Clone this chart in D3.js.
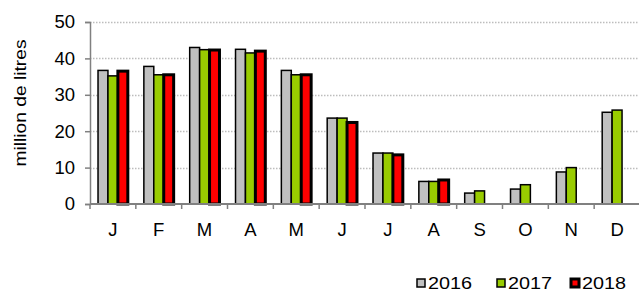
<!DOCTYPE html>
<html>
<head>
<meta charset="utf-8">
<script src="https://cdn.jsdelivr.net/npm/d3@7"></script>
<style>
  body { margin: 0; background: #fff; }
  text { font-family: "Liberation Sans", Arial, sans-serif; fill: #000; }
</style>
</head>
<body>
<script>
var width = 639, height = 291;
var months = ["J", "F", "M", "A", "M", "J", "J", "A", "S", "O", "N", "D"];
var series = ["2016", "2017", "2018"];
var v2016 = [36.7, 37.8, 43.0, 42.5, 36.7, 23.6, 14.0, 6.2, 3.0, 4.1, 8.8, 25.2];
var v2017 = [35.2, 35.5, 42.4, 41.5, 35.5, 23.6, 14.0, 6.2, 3.6, 5.3, 10.0, 25.8];
var v2018 = [36.5, 35.5, 42.3, 42.0, 35.5, 22.4, 13.5, 6.6, null, null, null, null];
var yTicks = [0, 10, 20, 30, 40, 50];
var fills = ["#c0c0c0", "#99cc00", "#ff0000"];
var strokeW = [1.5, 1.5, 3];

var svg = d3.select("body").append("svg")
    .attr("width", width)
    .attr("height", height);

var margin = {left: 90, top: 22, bottom: 204, right: 640};

var idx = d3.range(months.length);
var x0 = d3.scaleBand()
    .domain(idx)
    .range([margin.left, margin.right])
    .paddingInner(0.35)
    .paddingOuter(0.175);
var step = x0.step();
var x1 = d3.scaleBand()
    .domain(series)
    .range([0, x0.bandwidth()]);

var y = d3.scaleLinear()
    .domain([0, 50])
    .range([margin.bottom, margin.top]);

// dotted gridlines
svg.append("g").selectAll("line")
    .data(yTicks.slice(1))
    .enter().append("line")
    .attr("x1", margin.left)
    .attr("x2", width)
    .attr("y1", function(d){ return Math.round(y(d)) + 0.5; })
    .attr("y2", function(d){ return Math.round(y(d)) + 0.5; })
    .attr("stroke", "#bdbdbd")
    .attr("stroke-width", 1.5)
    .attr("stroke-dasharray", "1.5,1.5");

// bars
var table = idx.map(function(i){
    return [v2016[i], v2017[i], v2018[i]];
});

var groups = svg.append("g").selectAll("g")
    .data(table)
    .enter().append("g")
    .attr("transform", function(d, i){ return "translate(" + x0(i) + ",0)"; });

groups.selectAll("rect")
    .data(function(d){ return d.map(function(v, k){ return {k: k, v: v}; }).filter(function(e){ return e.v != null; }); })
    .enter().append("rect")
    .attr("x", function(d){ return x1(series[d.k]); })
    .attr("width", x1.bandwidth())
    .attr("y", function(d){ return y(d.v); })
    .attr("height", function(d){ return y(0) - y(d.v); })
    .attr("fill", function(d){ return fills[d.k]; })
    .attr("stroke", "#000")
    .attr("stroke-width", function(d){ return strokeW[d.k]; });

// y axis
var yAxis = d3.axisLeft(y)
    .tickValues(yTicks)
    .tickSize(5)
    .tickPadding(10);
var gy = svg.append("g")
    .attr("transform", "translate(" + margin.left + ",0)")
    .call(yAxis);
gy.select(".domain").attr("stroke", "#808080").attr("stroke-width", 1.5);
gy.selectAll(".tick line").attr("stroke", "#808080").attr("stroke-width", 1.5);
gy.selectAll(".tick text")
    .style("font-size", "18.5px")
    .attr("font-family", "Liberation Sans, Arial, sans-serif");

// x axis
svg.append("line")
    .attr("x1", margin.left)
    .attr("x2", width)
    .attr("y1", y(0))
    .attr("y2", y(0))
    .attr("stroke", "#808080")
    .attr("stroke-width", 2);

svg.append("g").selectAll("line")
    .data(d3.range(months.length + 1))
    .enter().append("line")
    .attr("x1", function(i){ return margin.left + i * step; })
    .attr("x2", function(i){ return margin.left + i * step; })
    .attr("y1", y(0))
    .attr("y2", y(0) + 5)
    .attr("stroke", "#808080")
    .attr("stroke-width", 1.5);

svg.append("g").selectAll("text")
    .data(months)
    .enter().append("text")
    .attr("x", function(d, i){ return x0(i) + x0.bandwidth() / 2; })
    .attr("y", 236)
    .attr("text-anchor", "middle")
    .style("font-size", "18.5px")
    .text(function(d){ return d; });

// y title
svg.append("text")
    .attr("transform", "translate(26,103) rotate(-90)")
    .attr("text-anchor", "middle")
    .attr("textLength", 127)
    .attr("lengthAdjust", "spacingAndGlyphs")
    .style("font-size", "17px")
    .text("million de litres");

// legend
var legendX = [417, 497, 571];
var legend = svg.append("g").selectAll("g")
    .data(series)
    .enter().append("g")
    .attr("transform", function(d, i){ return "translate(" + legendX[i] + ",279)"; });

legend.append("rect")
    .attr("width", 8)
    .attr("height", 8)
    .attr("fill", function(d, i){ return fills[i]; })
    .attr("stroke", "#000")
    .attr("stroke-width", function(d, i){ return i == 2 ? 3 : 1.5; });

legend.append("text")
    .attr("x", 11)
    .attr("y", 10)
    .attr("textLength", 44)
    .attr("lengthAdjust", "spacingAndGlyphs")
    .style("font-size", "16px")
    .text(function(d){ return d; });
</script>
</body>
</html>
